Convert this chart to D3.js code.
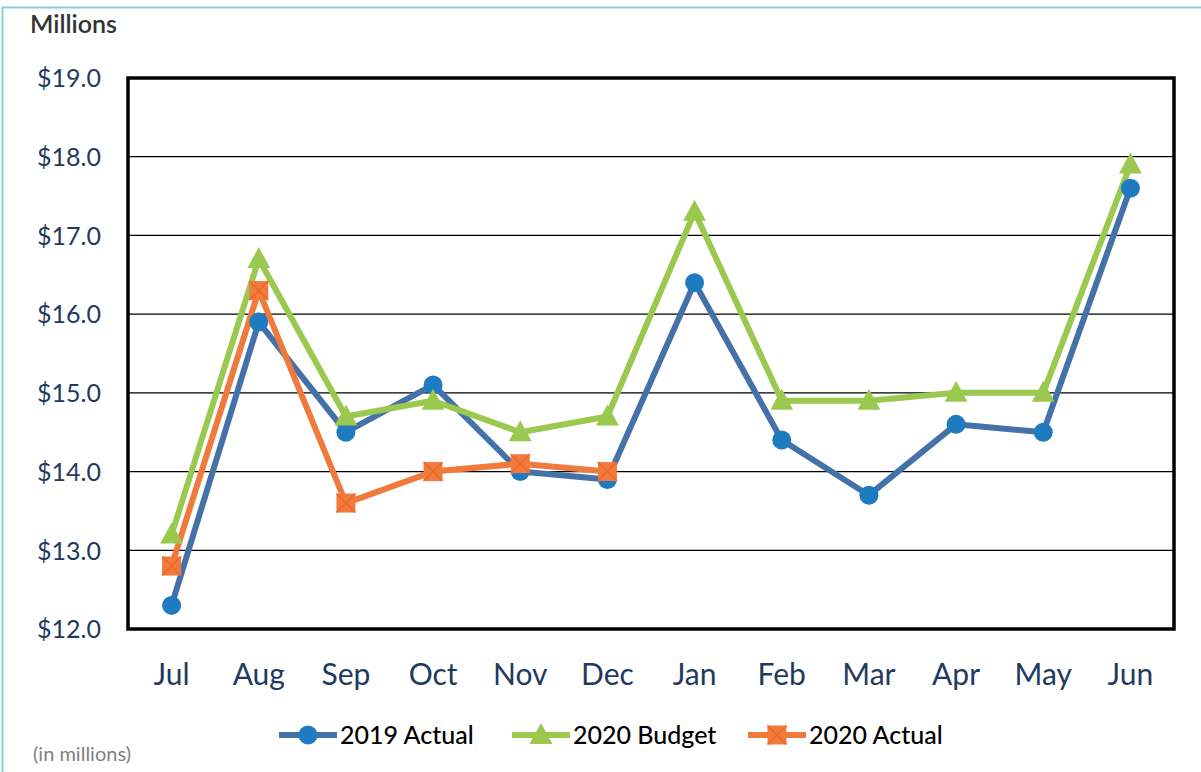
<!DOCTYPE html>
<html><head><meta charset="utf-8">
<script src="https://cdn.jsdelivr.net/npm/d3@7"></script>
<style>html,body{margin:0;padding:0;background:#fff;}svg{display:block;}</style>
</head><body>
<svg id="chart" width="1201" height="772"></svg>
<script>
const months = ["Jul","Aug","Sep","Oct","Nov","Dec","Jan","Feb","Mar","Apr","May","Jun"];
const actual2019 = [12.3,15.9,14.5,15.1,14.0,13.9,16.4,14.4,13.7,14.6,14.5,17.6];
const budget2020 = [13.2,16.7,14.7,14.9,14.5,14.7,17.3,14.9,14.9,15.0,15.0,17.9];
const actual2020 = [12.8,16.3,13.6,14.0,14.1,14.0];
const yTicks = [12,13,14,15,16,17,18,19];
const seriesNames = ["2019 Actual","2020 Budget","2020 Actual"];

const svg = d3.select("#chart");
const FONT = "Lato, 'Open Sans', sans-serif";
const L = 128, R = 1174, T = 78, B = 629;

// outer teal frame
svg.append("path").attr("d","M2.5,772 L2.5,7.5 L1201,7.5").attr("fill","none").attr("stroke","#8ccfd6").attr("stroke-width",2);

const x = d3.scaleBand().domain(months).range([L,R]);
const y = d3.scaleLinear().domain([12,19]).range([B,T]);

// gridlines
svg.append("g").selectAll("line").data(yTicks).join("line")
  .attr("x1",L).attr("x2",R).attr("y1",d=>y(d)).attr("y2",d=>y(d))
  .attr("stroke","#000").attr("stroke-width",1.2);

// y axis labels
const yAxis = d3.axisLeft(y).tickValues(yTicks).tickFormat(d=>"$"+d3.format(".1f")(d)).tickSize(0).tickPadding(27);
const gy = svg.append("g").attr("transform",`translate(${L},0)`).call(yAxis);
gy.select(".domain").remove();
gy.selectAll("text").attr("font-family",FONT).attr("font-size",25).attr("fill","#1f3a60").attr("dy","0.35em");

// x axis labels
const xAxis = d3.axisBottom(x).tickSize(0).tickPadding(35);
const gx = svg.append("g").attr("transform",`translate(0,${B})`).call(xAxis);
gx.select(".domain").remove();
gx.selectAll("text").attr("font-family",FONT).attr("font-size",30).attr("fill","#1f3a60").attr("dy","0.71em");

// border
svg.append("rect").attr("x",L).attr("y",T).attr("width",R-L).attr("height",B-T)
  .attr("fill","none").attr("stroke","#000").attr("stroke-width",3.5);

const cx = (d,i)=> x(months[i]) + x.bandwidth()/2;
const line = d3.line().x((d,i)=>cx(d,i)).y(d=>y(d));

const colors = {blue:"#4472a8", blueM:"#1f7bc0", green:"#9bc84f", greenM:"#9bc84f", orange:"#ef7a3b", orangeM:"#f07b3f"};

svg.append("path").datum(actual2019).attr("d",line).attr("fill","none").attr("stroke",colors.blue).attr("stroke-width",6).attr("stroke-linejoin","round");
svg.append("path").datum(budget2020).attr("d",line).attr("fill","none").attr("stroke",colors.green).attr("stroke-width",6).attr("stroke-linejoin","round");
svg.append("path").datum(actual2020).attr("d",line).attr("fill","none").attr("stroke",colors.orange).attr("stroke-width",6).attr("stroke-linejoin","round");

function circleM(g, px, py){ g.append("circle").attr("cx",px).attr("cy",py).attr("r",9.5).attr("fill",colors.blueM); }
function triM(g, px, py){ const s=12; g.append("path").attr("d",`M${px},${py-s} L${px+s*0.95},${py+s*0.75} L${px-s*0.95},${py+s*0.75} Z`).attr("fill",colors.greenM); }
function sqM(g, px, py){ const s=9.5; g.append("rect").attr("x",px-s).attr("y",py-s).attr("width",2*s).attr("height",2*s).attr("fill",colors.orangeM);
  g.append("path").attr("d",`M${px-s},${py-s} L${px+s},${py+s} M${px+s},${py-s} L${px-s},${py+s}`).attr("stroke","#f26522").attr("stroke-width",1.5); }

const gm = svg.append("g");
actual2019.forEach((d,i)=>circleM(gm,cx(d,i),y(d)));
budget2020.forEach((d,i)=>triM(gm,cx(d,i),y(d)));
actual2020.forEach((d,i)=>sqM(gm,cx(d,i),y(d)));

// titles
svg.append("text").attr("x",30).attr("y",33).text("Millions").attr("font-family",FONT).attr("font-size",25).attr("font-weight",600).attr("fill","#333");
svg.append("text").attr("x",33).attr("y",761).text("(in millions)").attr("font-family",FONT).attr("font-size",20).attr("fill","#7f7f7f");

// legend
const legendX = [279, 512, 748];
const markers = [circleM, triM, sqM];
const lcols = [colors.blue, colors.green, colors.orange];
const lg = svg.append("g");
seriesNames.forEach((n,i)=>{
  const lx = legendX[i], ly = 735;
  lg.append("line").attr("x1",lx).attr("x2",lx+58).attr("y1",ly).attr("y2",ly).attr("stroke",lcols[i]).attr("stroke-width",6);
  markers[i](lg, lx+29, ly);
  lg.append("text").attr("x",lx+61).attr("y",ly).attr("dy","0.35em").text(n).attr("font-family",FONT).attr("font-size",25).attr("font-weight",500).attr("fill","#000");
});
</script>
</body></html>
